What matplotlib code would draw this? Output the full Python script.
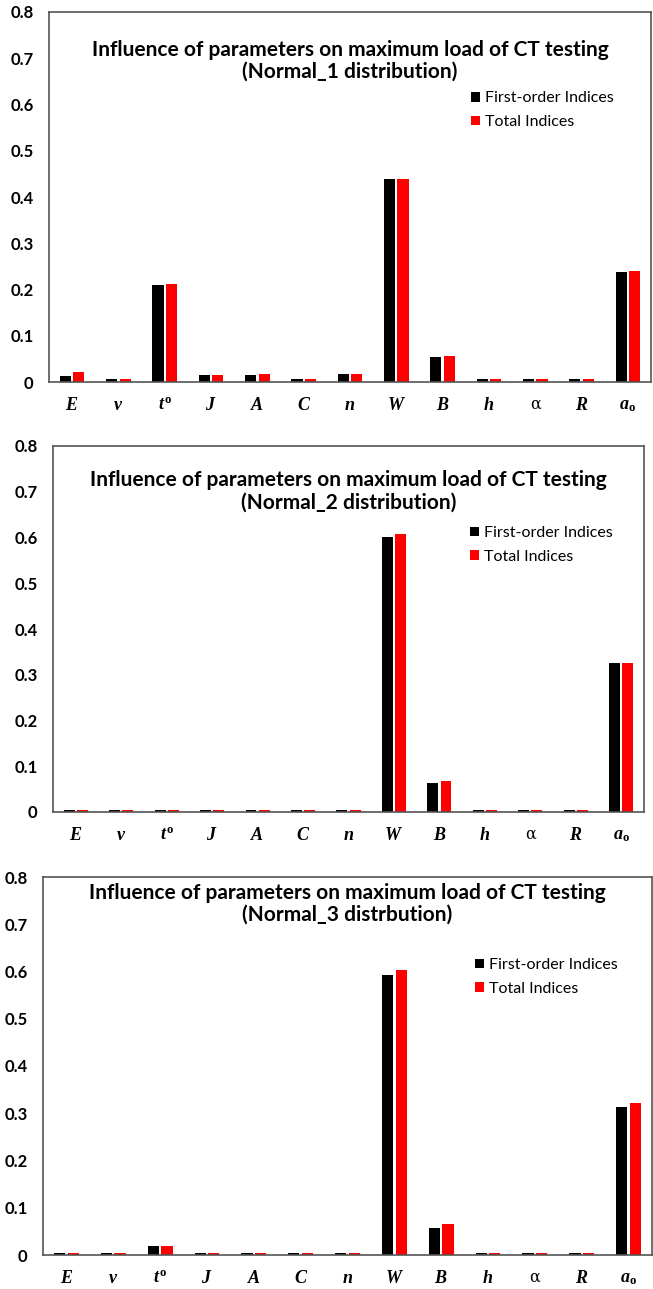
import matplotlib
matplotlib.use("Agg")
import matplotlib.pyplot as plt
import numpy as np

# Parameter symbols on the x axis
params = ["$E$", "$v$", "$t^{\\mathrm{o}}$", "$J$", "$A$", "$C$", "$n$", "$W$", "$B$", "$h$", "α", "$R$",
          "$a_{\\mathrm{o}}$"]

# Sobol indices for the maximum load, three input distributions
first_n1 = [0.013, 0.006, 0.209, 0.015, 0.016, 0.006, 0.017, 0.439, 0.055, 0.006, 0.006, 0.006, 0.237]
total_n1 = [0.021, 0.006, 0.211, 0.015, 0.018, 0.006, 0.018, 0.439, 0.057, 0.006, 0.006, 0.006, 0.239]

first_n2 = [0.005, 0.005, 0.005, 0.005, 0.005, 0.005, 0.005, 0.601, 0.064, 0.005, 0.005, 0.005, 0.326]
total_n2 = [0.005, 0.005, 0.005, 0.005, 0.005, 0.005, 0.005, 0.607, 0.068, 0.005, 0.005, 0.005, 0.326]

first_n3 = [0.005, 0.005, 0.020, 0.005, 0.005, 0.005, 0.005, 0.592, 0.057, 0.005, 0.005, 0.005, 0.313]
total_n3 = [0.005, 0.005, 0.020, 0.005, 0.005, 0.005, 0.005, 0.603, 0.066, 0.005, 0.005, 0.005, 0.322]

titles = [
    "Influence of parameters on maximum load of CT testing\n(Normal_1 distribution)",
    "Influence of parameters on maximum load of CT testing\n(Normal_2 distribution)",
    "Influence of parameters on maximum load of CT testing\n(Normal_3 distrbution)",
]
series_names = ["First-order Indices", "Total Indices"]
yticks = [0, 0.1, 0.2, 0.3, 0.4, 0.5, 0.6, 0.7, 0.8]
ytick_labels = ["0", "0.1", "0.2", "0.3", "0.4", "0.5", "0.6", "0.7", "0.8"]

plt.rcParams["mathtext.fontset"] = "custom"
plt.rcParams["mathtext.it"] = "Liberation Serif:italic:bold"
plt.rcParams["mathtext.rm"] = "Liberation Serif:bold"
plt.rcParams["mathtext.bf"] = "Liberation Serif:bold"

W, H = 653, 1289
fig = plt.figure(figsize=(W / 100, H / 100), dpi=100)

# pixel boxes (left, right, top, bottom) for each panel
boxes = [(49, 651, 12, 382), (53, 644, 446, 812), (43, 652, 877, 1255)]
title_y = [0.868, 0.877, 0.929]
legend_anchor = [(0.688, 0.807), (0.692, 0.803), (0.697, 0.806)]
datasets = [(first_n1, total_n1), (first_n2, total_n2), (first_n3, total_n3)]

x = np.arange(len(params))
bw = 0.24
frame_col = "#555555"

for (l, r, t, b), (fo, to), ttl, ty, la in zip(boxes, datasets, titles, title_y, legend_anchor):
    ax = fig.add_axes([l / W, 1 - b / H, (r - l) / W, (b - t) / H])
    ax.bar(x - 0.145, fo, bw, color="black", label=series_names[0])
    ax.bar(x + 0.145, to, bw, color="#ff0000", label=series_names[1])
    ax.set_xlim(-0.5, len(params) - 0.5)
    ax.set_ylim(0, 0.8)
    ax.set_yticks(yticks)
    ax.set_yticklabels(ytick_labels, fontfamily="Lato", fontweight="bold", fontsize=12)
    ax.set_xticks(x)
    ax.set_xticklabels(params, fontsize=13)
    for lab in ax.get_xticklabels():
        if lab.get_text() == "α":
            lab.set_fontfamily("DejaVu Serif")
            lab.set_fontsize(11.5)
    ax.tick_params(axis="y", length=0, pad=11)
    ax.tick_params(axis="x", length=0, pad=10)
    for s in ax.spines.values():
        s.set_color(frame_col)
        s.set_linewidth(1.2)
    ax.text(0.5, ty, ttl, transform=ax.transAxes, ha="center", va="center",
            fontfamily="Lato", fontweight="bold", fontsize=15, linespacing=1.15)
    ax.legend(loc="upper left", bbox_to_anchor=la, frameon=False,
              prop={"family": "Lato", "size": 11.5}, handlelength=0.55, handleheight=0.55,
              handletextpad=0.3, labelspacing=0.6, borderpad=0)

fig.savefig("out.png", dpi=100)
